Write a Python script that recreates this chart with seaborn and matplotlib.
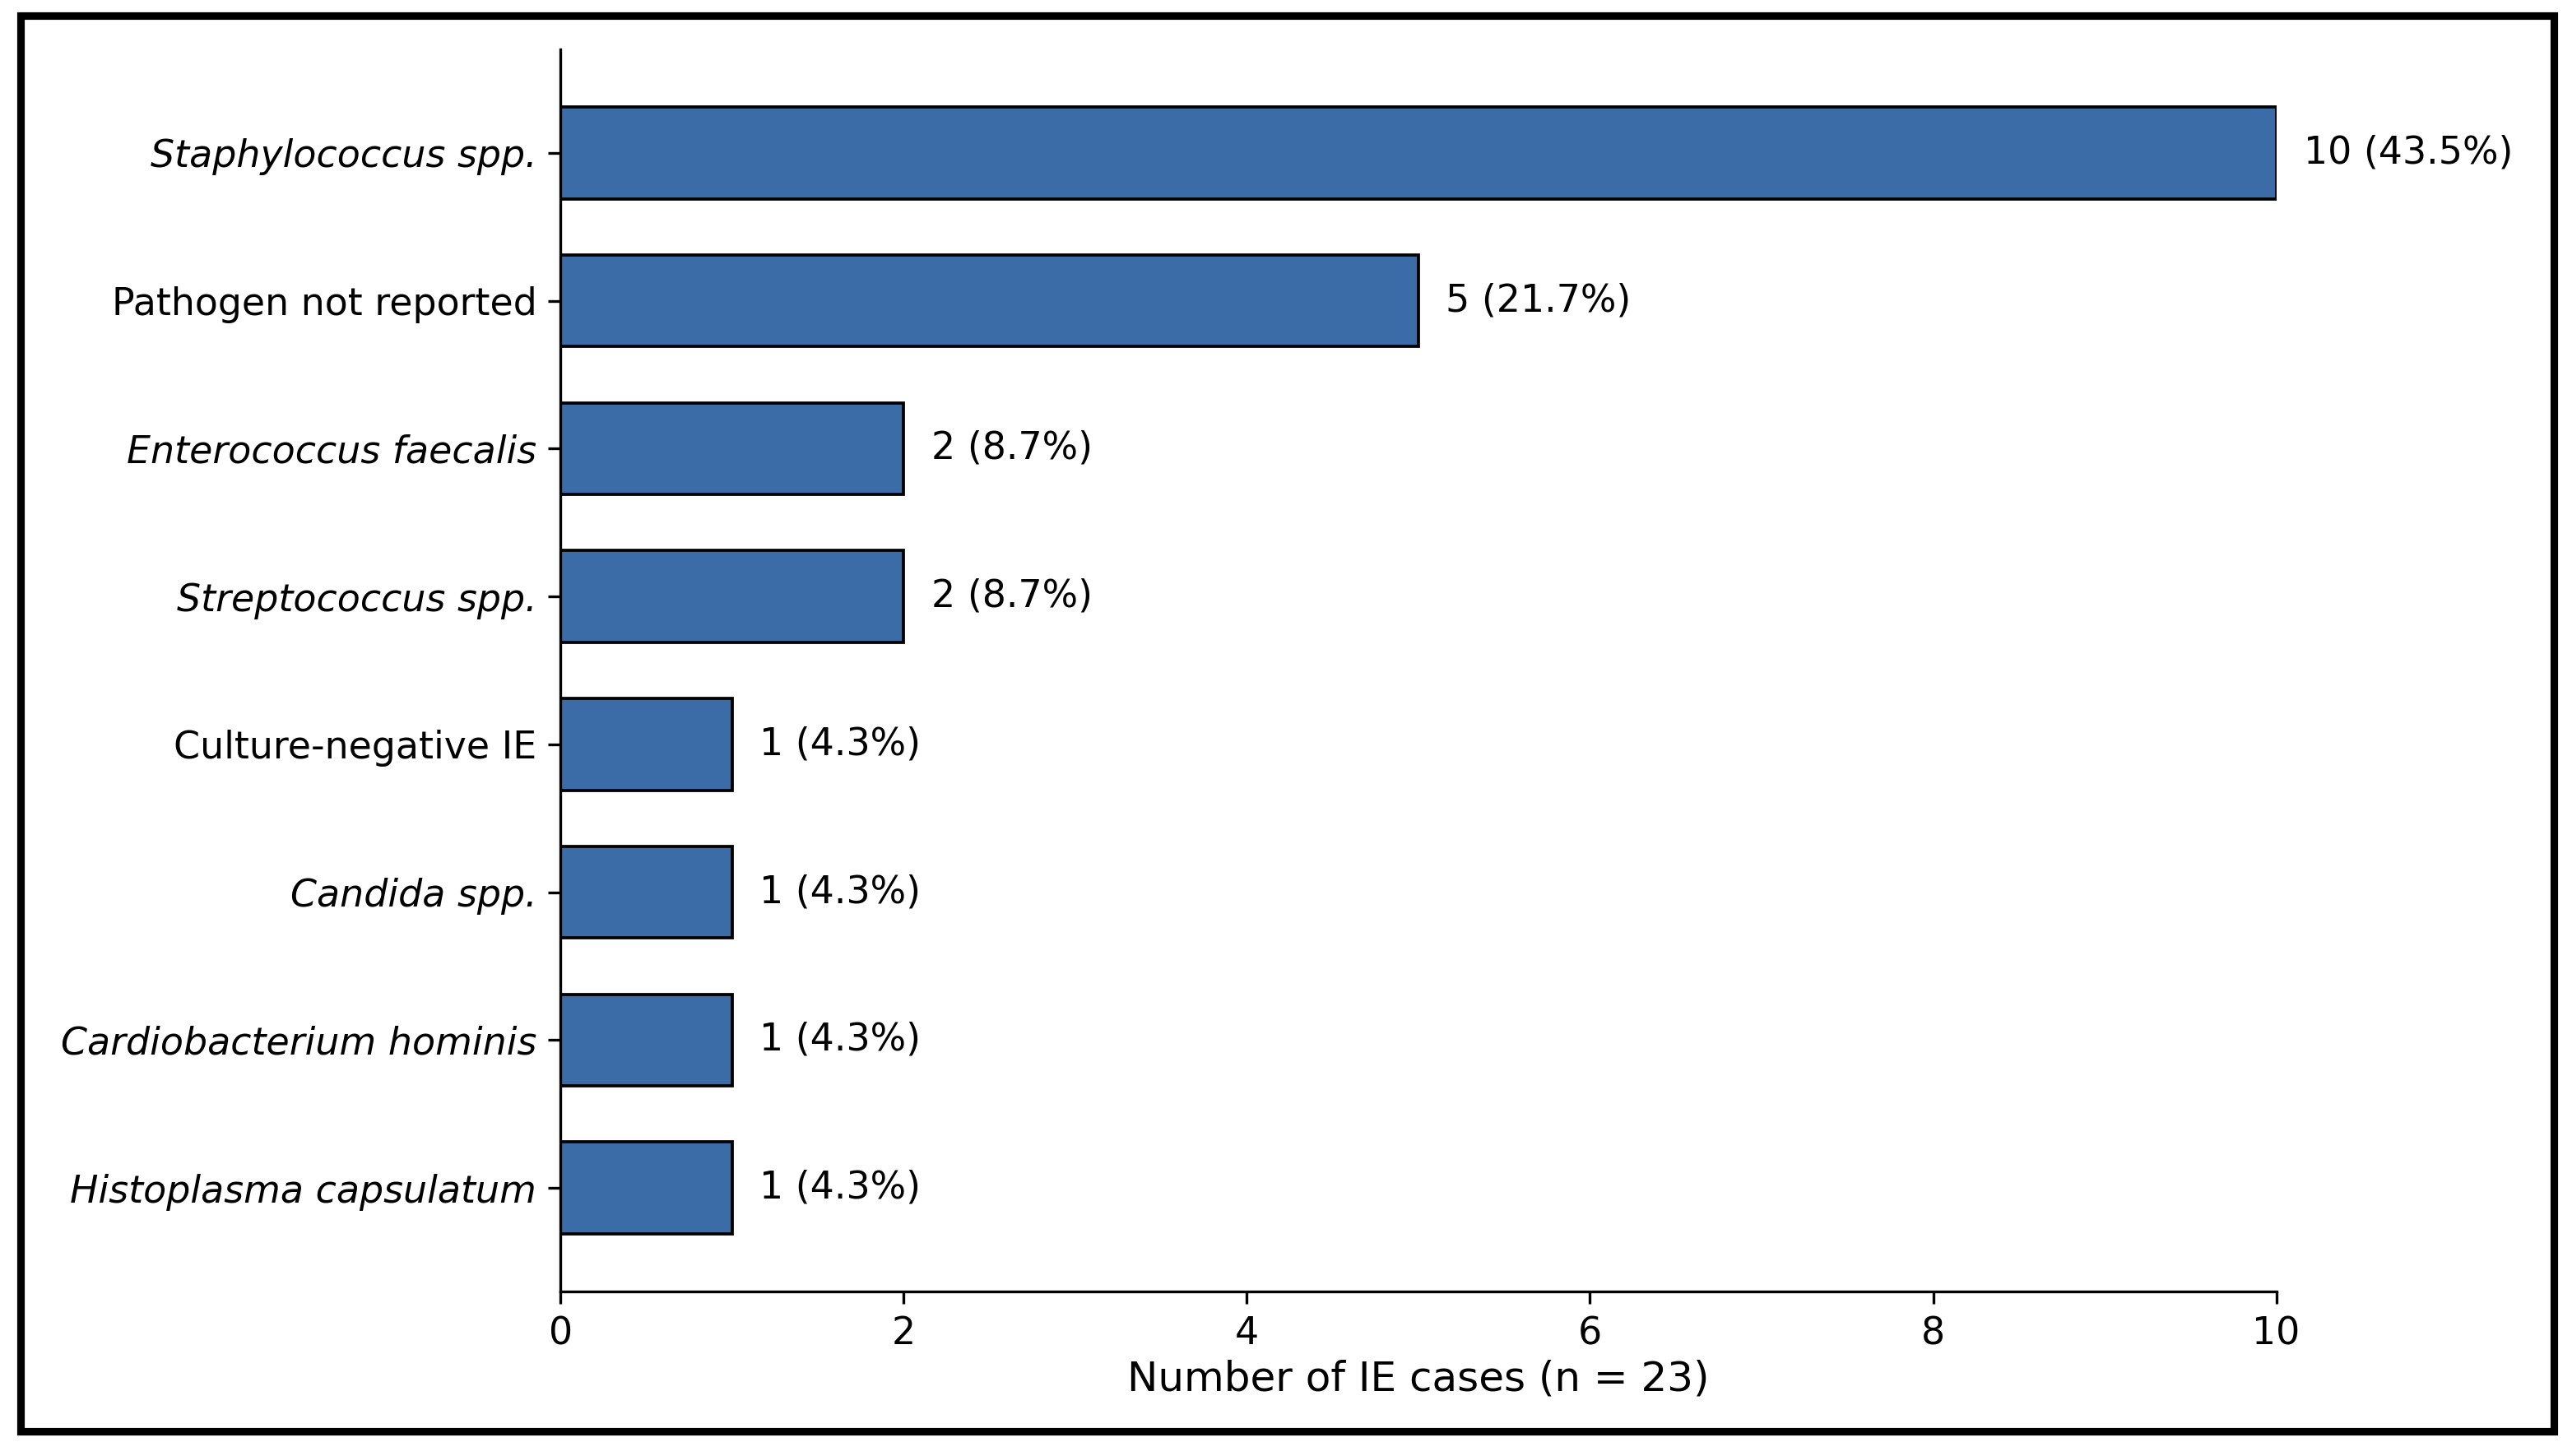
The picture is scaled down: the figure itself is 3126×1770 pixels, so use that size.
import numpy as np
import matplotlib
matplotlib.use("Agg")
import matplotlib.pyplot as plt
import matplotlib.patches as mpatches
import pandas as pd
import seaborn as sns

# pathogens, top to bottom
pathogens = ["Staphylococcus spp.", "Pathogen not reported", "Enterococcus faecalis",
             "Streptococcus spp.", "Culture-negative IE", "Candida spp.",
             "Cardiobacterium hominis", "Histoplasma capsulatum"]
cases = [10, 5, 2, 2, 1, 1, 1, 1]
italic = [True, False, True, True, False, True, True, True]
n_total = 23

df = pd.DataFrame({"pathogen": pathogens, "cases": cases})

sns.set_theme(style="ticks", rc={"text.color": "black", "axes.labelcolor": "black",
                                 "xtick.color": "black", "ytick.color": "black",
                                 "axes.edgecolor": "black"})
plt.rcParams["font.family"] = ["DejaVu Sans"]

fig, ax = plt.subplots(figsize=(10.42, 5.9), dpi=300)
fig.subplots_adjust(left=0.218, right=0.885, top=0.966, bottom=0.113)

sns.barplot(data=df, x="cases", y="pathogen", orient="h", color="#3b6ca7",
            saturation=1, edgecolor="black", linewidth=0.9, width=0.62, ax=ax)

for i, v in enumerate(cases):
    ax.text(v + 0.16, i, f"{v} ({v / n_total * 100:.1f}%)", va="center", ha="left",
            fontsize=11, color="black")

ax.set_xlim(0, 10)
ax.set_ylim(7.7, -0.7)
ax.set_xticks(np.arange(0, 11, 2))
ax.set_xlabel("Number of IE cases (n = 23)", fontsize=12, labelpad=2)
ax.set_ylabel("")
ax.tick_params(axis="both", labelsize=11, length=3.5, width=0.8, color="black")
for lab, it in zip(ax.get_yticklabels(), italic):
    if it:
        lab.set_fontstyle("italic")
sns.despine(ax=ax)
for s in ["left", "bottom"]:
    ax.spines[s].set_linewidth(0.8)

# black frame around the figure
fig.patches.append(mpatches.Rectangle((0.008, 0.017), 0.985, 0.972, transform=fig.transFigure,
                                      fill=False, edgecolor="black", linewidth=2.2))

fig.savefig("out.png", dpi=300, facecolor="white")
